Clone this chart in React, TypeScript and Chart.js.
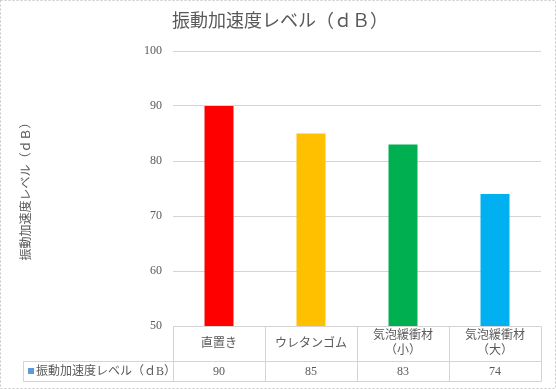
import React, { useEffect, useRef } from "react";
import { Chart, registerables } from "chart.js";

Chart.register(...registerables);

const categories: string[][] = [["直置き"], ["ウレタンゴム"], ["気泡緩衝材", "（小）"], ["気泡緩衝材", "（大）"]];
const values: number[] = [90, 85, 83, 74];
const barColors: string[] = ["#FF0000", "#FFC000", "#00B050", "#00B0F0"];
const seriesName = "振動加速度レベル（ｄB）";
const chartTitle = "振動加速度レベル（ｄＢ）";
const axisTitle = "振動加速度レベル（ｄＢ）";
const yMin = 50;
const yMax = 100;
const yStep = 10;

const FONT = '"Liberation Serif", "Noto Sans CJK JP", serif';
const TEXT = "#595959";
const LINE = "#D4D4D4";
const LEGEND_KEY = "#5B9BD5";

const bgPlugin = {
  id: "bgBorder",
  beforeDraw(chart: any) {
    const { ctx, width, height } = chart;
    ctx.save();
    ctx.fillStyle = "#FFFFFF";
    ctx.fillRect(0, 0, width, height);
    ctx.restore();
  },
  afterDraw(chart: any) {
    const { ctx, width, height } = chart;
    ctx.save();
    ctx.strokeStyle = "#C8C8C8";
    ctx.lineWidth = 1;
    ctx.setLineDash([2, 2]);
    ctx.strokeRect(0.5, 0.5, width - 1, height - 1);
    ctx.setLineDash([]);
    // chart title
    ctx.fillStyle = TEXT;
    ctx.font = `18px ${FONT}`;
    ctx.textAlign = "center";
    ctx.textBaseline = "middle";
    ctx.fillText(chartTitle, 280, 22);
    ctx.restore();
  },
};

const tablePlugin = {
  id: "dataTable",
  afterDraw(chart: any) {
    const { ctx } = chart;
    const xs = chart.scales.x;
    const area = chart.chartArea;
    const n = categories.length;
    const w = n > 1 ? xs.getPixelForValue(1) - xs.getPixelForValue(0) : area.right - area.left;
    const edges: number[] = [];
    for (let i = 0; i <= n; i++) edges.push(xs.getPixelForValue(0) - w / 2 + i * w);
    const top = area.bottom;
    const mid = top + 35;
    const bot = mid + 20;
    const legendLeft = 23;
    const r = (v: number) => Math.round(v) + 0.5;

    ctx.save();
    ctx.strokeStyle = LINE;
    ctx.lineWidth = 1;
    ctx.beginPath();
    ctx.moveTo(r(edges[0]), r(top));
    ctx.lineTo(r(edges[n]), r(top));
    ctx.moveTo(r(legendLeft), r(mid));
    ctx.lineTo(r(edges[n]), r(mid));
    ctx.moveTo(r(legendLeft), r(bot));
    ctx.lineTo(r(edges[n]), r(bot));
    for (let i = 0; i <= n; i++) {
      ctx.moveTo(r(edges[i]), r(top));
      ctx.lineTo(r(edges[i]), r(bot));
    }
    ctx.moveTo(r(legendLeft), r(mid));
    ctx.lineTo(r(legendLeft), r(bot));
    ctx.stroke();

    ctx.fillStyle = TEXT;
    ctx.font = `12px ${FONT}`;
    ctx.textAlign = "center";
    ctx.textBaseline = "middle";
    const lh = 15;
    categories.forEach((lines, i) => {
      const cx = xs.getPixelForValue(i);
      const cy = (top + mid) / 2;
      const start = cy - ((lines.length - 1) * lh) / 2;
      lines.forEach((t, j) => ctx.fillText(t, cx, start + j * lh));
      ctx.fillText(String(values[i]), cx, (mid + bot) / 2 + 0.5);
    });

    ctx.fillStyle = LEGEND_KEY;
    ctx.fillRect(28, Math.round((mid + bot) / 2) - 3, 6, 6);
    ctx.fillStyle = TEXT;
    ctx.textAlign = "left";
    ctx.fillText(seriesName, 36, (mid + bot) / 2 + 0.5);
    ctx.restore();
  },
};

export default function App() {
  const ref = useRef<HTMLCanvasElement | null>(null);
  useEffect(() => {
    if (!ref.current) return;
    const chart = new Chart(ref.current, {
      type: "bar",
      data: {
        labels: categories.map((c) => c.join("")),
        datasets: [
          {
            label: seriesName,
            data: values,
            backgroundColor: barColors,
            borderWidth: 0,
            categoryPercentage: 1,
            barPercentage: 0.315,
          },
        ],
      },
      options: {
        responsive: false,
        animation: false,
        devicePixelRatio: 1,
        layout: { padding: { left: 0, right: 15, top: 51, bottom: 63 } },
        plugins: {
          legend: { display: false },
          tooltip: { enabled: false },
          title: { display: false },
        },
        scales: {
          x: { display: false },
          y: {
            min: yMin,
            max: yMax,
            afterFit: (scale: any) => {
              scale.width = 173;
            },
            ticks: {
              stepSize: yStep,
              padding: 11,
              color: TEXT,
              font: { family: FONT, size: 12 },
            },
            grid: { color: LINE, drawTicks: false },
            border: { display: false },
            title: {
              display: true,
              text: axisTitle,
              color: TEXT,
              font: { family: FONT, size: 12, lineHeight: 1.2 },
              padding: { top: 20, bottom: 0 },
            },
          },
        },
      },
      plugins: [bgPlugin, tablePlugin],
    });
    return () => chart.destroy();
  }, []);
  return (
    <div style={{ position: "absolute", left: 0, top: 0, width: 556, height: 389 }}>
      <canvas ref={ref} width={556} height={389} />
    </div>
  );
}
